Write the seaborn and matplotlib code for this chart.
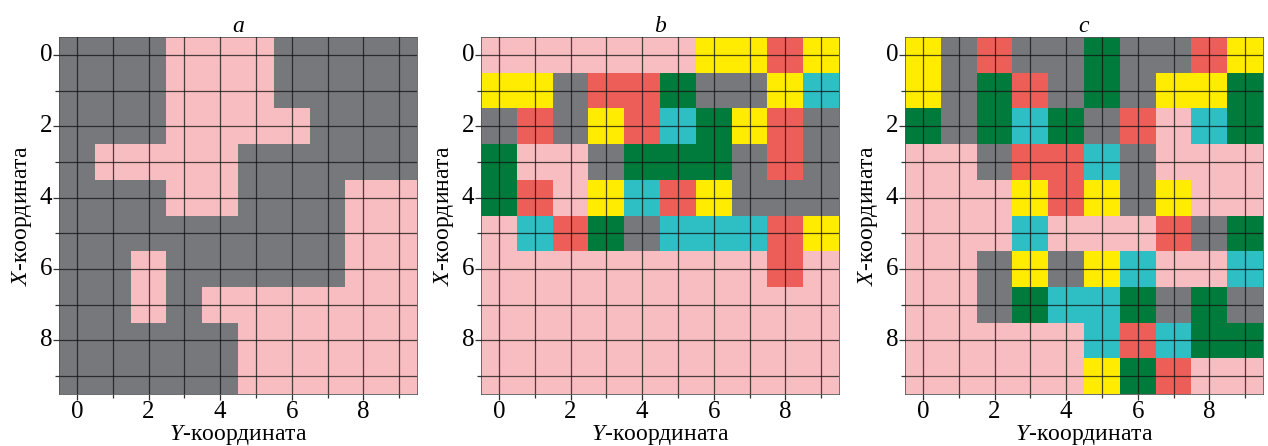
import numpy as np
import pandas as pd
import seaborn as sns
import matplotlib
matplotlib.use("Agg")
import matplotlib.pyplot as plt
from matplotlib.colors import ListedColormap

# Cell states: P=pink, G=gray, R=red, Y=yellow, D=dark green, C=cyan
grid_a = [
    "GGGPPPGGGG",
    "GGGPPPGGGG",
    "GGGPPPPGGG",
    "GPPPPGGGGG",
    "GGGPPGGGPP",
    "GGGGGGGGPP",
    "GGPGGGGGPP",
    "GGPGPPPPPP",
    "GGGGGPPPPP",
    "GGGGGPPPPP",
]
grid_b = [
    "PPPPPPYYRY",
    "YYGRRDGGYC",
    "GRGYRCDYRG",
    "DPPGDDDGRG",
    "DRPYCRYGGG",
    "PCRDGCCCRY",
    "PPPPPPPPRP",
    "PPPPPPPPPP",
    "PPPPPPPPPP",
    "PPPPPPPPPP",
]
grid_c = [
    "YGRGGDGGRY",
    "YGDRGDGYYD",
    "DGDCDGRPCD",
    "PPGRRCGPPP",
    "PPPYRYGYPP",
    "PPPCPPPRGD",
    "PPGYGYCPPC",
    "PPGDCCDGDG",
    "PPPPPCRCDD",
    "PPPPPYDRPP",
]
titles = ["a", "b", "c"]
states = ["P", "G", "R", "Y", "D", "C"]
state_colors = ["#F8BDC0", "#76787C", "#EE5E58", "#FFEC00", "#007B3B", "#2DBFC3"]
tick_labels = [0, 2, 4, 6, 8]

plt.rcParams["font.family"] = ["Liberation Serif", "DejaVu Serif"]
plt.rcParams["font.serif"] = ["Liberation Serif", "DejaVu Serif"]
plt.rcParams["mathtext.fontset"] = "custom"
plt.rcParams["mathtext.it"] = "Liberation Serif:italic"
plt.rcParams["mathtext.rm"] = "Liberation Serif"

cmap = ListedColormap(state_colors)
fig = plt.figure(figsize=(12.68, 4.46), dpi=100)
lefts = [59, 481, 905]
W, H = 1268, 446
for k, (g, t) in enumerate(zip([grid_a, grid_b, grid_c], titles)):
    ax = fig.add_axes([lefts[k] / W, (446 - 394) / H, 358 / W, 357 / H])
    arr = np.array([[states.index(ch) for ch in row] for row in g])
    df = pd.DataFrame(arr)
    sns.heatmap(df, ax=ax, cmap=cmap, vmin=-0.5, vmax=5.5, cbar=False,
                square=False, linewidths=0)
    n = arr.shape[0]
    ax.set_xticks(np.array(tick_labels) + 0.5)
    ax.set_xticklabels([str(v) for v in tick_labels], rotation=0,
                       family="Liberation Serif")
    ax.set_yticks(np.array(tick_labels) + 0.5)
    ax.set_yticklabels([str(v) for v in tick_labels], rotation=0,
                       family="Liberation Serif")
    ax.set_xticks(np.arange(1, n, 2) + 0.5, minor=True)
    ax.set_yticks(np.arange(1, n, 2) + 0.5, minor=True)
    ax.tick_params(which="major", labelsize=18, length=4, width=0.9, color="#333333", pad=1)
    ax.tick_params(which="minor", length=3, width=0.9, color="#333333")
    ax.grid(True, which="both", color="#111111", lw=0.9, alpha=0.75)
    ax.set_axisbelow(False)
    for s in ax.spines.values():
        s.set_visible(True)
        s.set_color("#555555")
        s.set_linewidth(0.6)
    ax.set_xlabel(r"$\mathit{Y}$-координата", fontsize=17, labelpad=0,
                  family="Liberation Serif")
    ax.set_ylabel(r"$\mathit{X}$-координата", fontsize=17, labelpad=4,
                  family="Liberation Serif")
    ax.set_title(t, fontsize=17, style="italic", pad=2, family="Liberation Serif")

fig.savefig("out.png", dpi=100)
